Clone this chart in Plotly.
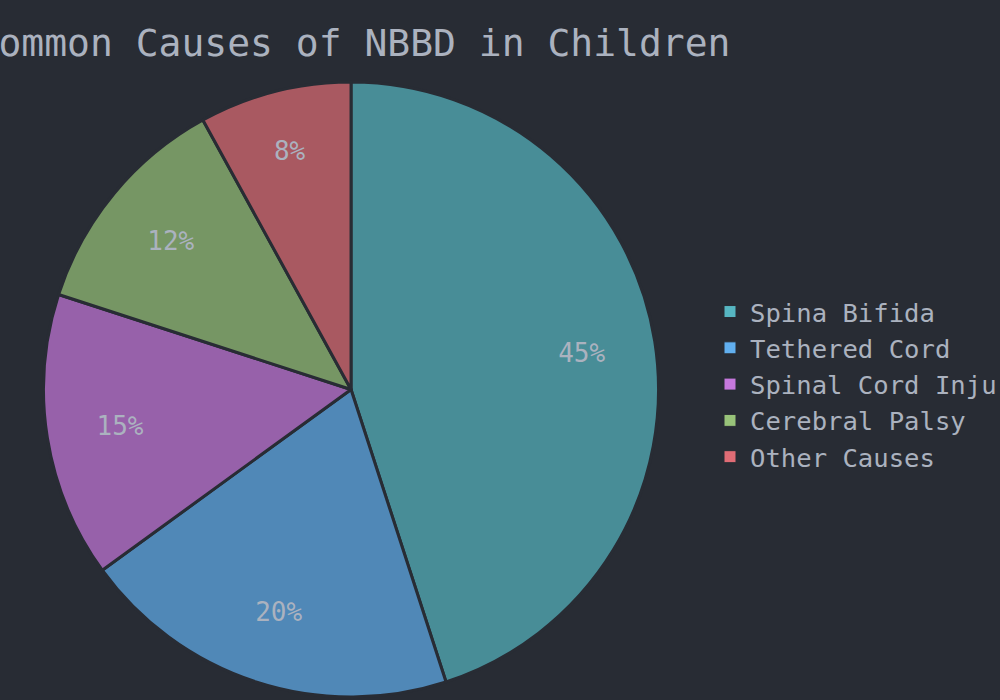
import plotly.graph_objects as go

title_text = "Common Causes of NBBD in Children"
labels = ["Spina Bifida", "Tethered Cord", "Spinal Cord Injury", "Cerebral Palsy", "Other Causes"]
values = [45, 20, 15, 12, 8]
colors = ["#56B6C2", "#61AFEF", "#C678DD", "#98C379", "#E06C75"]

BG = "#282C34"
FG = "#ABB2BF"
FONT = "DejaVu Sans Mono"
# the legend reserves the right-hand strip, so the plotting area spans 0..710 px
DOMAIN = dict(x=[0.0613, 0.9275], y=[0.0043, 0.8829])

fig = go.Figure()

# legend carrier: same data at full colour, drawn tiny and hidden under the pie centre
fig.add_trace(
    go.Pie(
        labels=labels,
        values=values,
        sort=False,
        direction="clockwise",
        marker=dict(colors=colors, line=dict(color=BG, width=1)),
        textinfo="none",
        domain=dict(x=[0.4943, 0.4945], y=[0.4436, 0.4438]),
        hoverinfo="skip",
        showlegend=True,
    )
)

# coloured slices
fig.add_trace(
    go.Pie(
        labels=labels,
        values=values,
        sort=False,
        direction="clockwise",
        rotation=0,
        marker=dict(colors=colors, line=dict(color=BG, width=3)),
        opacity=0.7,
        textinfo="none",
        domain=DOMAIN,
        hoverinfo="label+percent",
        showlegend=False,
    )
)

# percentage labels, placed on a ring so they sit at ~3/4 of the radius
fig.add_trace(
    go.Pie(
        labels=labels,
        values=values,
        sort=False,
        direction="clockwise",
        rotation=0,
        hole=0.52,
        marker=dict(colors=["rgba(0,0,0,0)"] * len(labels), line=dict(width=0)),
        textinfo="percent",
        textposition="inside",
        insidetextorientation="horizontal",
        insidetextfont=dict(family=FONT, size=26, color=FG),
        domain=DOMAIN,
        showlegend=False,
        hoverinfo="skip",
    )
)

fig.update_layout(
    width=1000,
    height=700,
    paper_bgcolor=BG,
    plot_bgcolor=BG,
    font=dict(family=FONT, color=FG, size=26),
    margin=dict(l=0, r=0, t=0, b=0),
    title=dict(
        text=title_text,
        x=0.353,
        xanchor="center",
        xref="container",
        y=0.9386,
        yanchor="middle",
        yref="container",
        font=dict(family=FONT, size=38, color=FG),
    ),
    legend=dict(
        xref="container",
        yref="container",
        x=0.71,
        xanchor="left",
        y=0.588,
        yanchor="top",
        font=dict(family=FONT, size=25.6, color=FG),
        bgcolor="rgba(0,0,0,0)",
    ),
    showlegend=True,
)

fig.write_html(
    "out.html",
    config={"displayModeBar": False},
    post_script="document.body.style.margin='0px';",
)
